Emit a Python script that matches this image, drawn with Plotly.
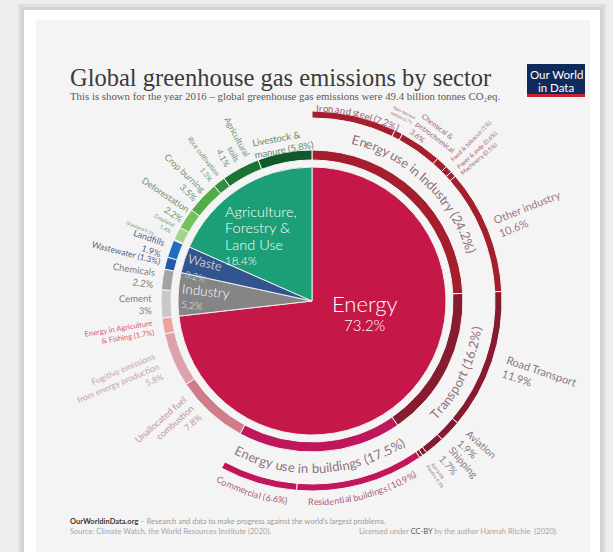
import math
import plotly.graph_objects as go

W, H = 613, 552
CX, CY = 312, 301          # pie centre in px
R_PIE = 134
R_IN = (141, 151)          # inner ring (sub-sectors)
R_OUT = (183, 190)         # outer ring (energy detail)

# ---------------- data (share of total emissions, %) ----------------
sectors = ["Energy", "Industry", "Waste", "Agriculture, Forestry & Land Use"]
sector_values = [73.2, 5.2, 3.2, 18.4]

energy_sub = ["Energy use in Industry", "Transport", "Energy use in buildings",
              "Unallocated fuel combustion", "Fugitive emissions", "Energy in Agriculture & Fishing"]
energy_sub_values = [24.2, 16.2, 17.5, 7.8, 5.8, 1.7]
industry_sub = ["Cement", "Chemicals"]
industry_sub_values = [3.0, 2.2]
waste_sub = ["Wastewater", "Landfills"]
waste_sub_values = [1.3, 1.9]
afolu_sub = ["Grassland", "Cropland", "Deforestation", "Crop burning",
             "Rice cultivation", "Agricultural soils", "Livestock & manure"]
afolu_sub_values = [0.1, 1.4, 2.2, 3.5, 1.3, 4.1, 5.8]

industry_detail = ["Iron and steel", "Non-ferrous metals", "Chemical & petrochemical",
                   "Food & tobacco", "Paper & pulp", "Machinery", "Other industry"]
industry_detail_values = [7.2, 0.7, 3.6, 1.0, 0.6, 0.5, 10.6]
transport_detail = ["Road Transport", "Aviation", "Shipping", "Rail", "Pipeline"]
transport_detail_values = [11.9, 1.9, 1.7, 0.4, 0.3]
buildings_detail = ["Residential buildings", "Commercial"]
buildings_detail_values = [10.9, 6.6]

# ---------------- colours ----------------
sector_colors = ["#c51748", "#858585", "#33558f", "#1c9e77"]
energy_sub_colors = ["#a51e2d", "#871b2f", "#bf175c", "#cf7d88", "#dca4aa", "#eba59e"]
industry_sub_colors = ["#c8c8c8", "#a3a3a3"]
waste_sub_colors = ["#2457a8", "#1f6dc3"]
afolu_sub_colors = ["#cdeac0", "#9fd68c", "#74c15c", "#52ad48", "#2f8f42", "#1b7436", "#10592b"]
industry_detail_colors = ["#a51e2d"] * 7
transport_detail_colors = ["#861a2e"] * 5
buildings_detail_colors = ["#c2155a", "#c2155a"]

BG = "#f5f4f4"

def dom(r):
    return dict(x=[(CX - r) / W, (CX + r) / W], y=[1 - (CY + r) / H, 1 - (CY - r) / H])

fig = go.Figure()
common = dict(sort=False, direction="clockwise", rotation=0, textinfo="none",
              hoverinfo="label+value", showlegend=False)

fig.add_trace(go.Pie(labels=sectors, values=sector_values, domain=dom(R_PIE),
                     marker=dict(colors=sector_colors, line=dict(color="#f0eded", width=1)),
                     **common))

in_labels = energy_sub + industry_sub + waste_sub + afolu_sub
in_values = energy_sub_values + industry_sub_values + waste_sub_values + afolu_sub_values
in_colors = energy_sub_colors + industry_sub_colors + waste_sub_colors + afolu_sub_colors
fig.add_trace(go.Pie(labels=in_labels, values=in_values, domain=dom(R_IN[1]),
                     hole=R_IN[0] / R_IN[1],
                     marker=dict(colors=in_colors, line=dict(color=BG, width=1)), **common))

out_labels = industry_detail + transport_detail + buildings_detail
out_values = industry_detail_values + transport_detail_values + buildings_detail_values
rest = round(100 - sum(out_values), 2)
fig.add_trace(go.Pie(labels=out_labels + [" "], values=out_values + [rest], domain=dom(R_OUT[1]),
                     hole=R_OUT[0] / R_OUT[1],
                     marker=dict(colors=industry_detail_colors + transport_detail_colors
                                 + buildings_detail_colors + ["rgba(0,0,0,0)"],
                                 line=dict(color=BG, width=[1] * len(out_values) + [0])),
                     **common))

# ---------------- angles from data ----------------
def mids(labels, values):
    out, c = {}, 0.0
    for l, v in zip(labels, values):
        out[l] = (c + v / 2) * 3.6
        c += v
    return out

MID = {}
MID.update(mids(in_labels, in_values))
MID.update(mids(out_labels, out_values))

def polar(ang, r):
    a = math.radians(ang)
    x = CX + r * math.sin(a)
    y = CY - r * math.cos(a)
    return x / W, 1 - y / H

ann = []

def add(text, x, y, size, color, rot=0, xa="center", ya="middle", align="center",
        family="Lato", paper_px=True):
    if paper_px:
        x, y = x / W, 1 - y / H
    ann.append(dict(text=text, x=x, y=y, xref="paper", yref="paper", showarrow=False,
                    textangle=rot, xanchor=xa, yanchor=ya, align=align, borderpad=0,
                    font=dict(family=family, size=size, color=color)))

# character widths (em) for Lato-like font
CW = {' ': 0.24, 'a': 0.51, 'b': 0.56, 'c': 0.46, 'd': 0.56, 'e': 0.52, 'f': 0.32, 'g': 0.5,
      'h': 0.56, 'i': 0.24, 'j': 0.24, 'k': 0.5, 'l': 0.24, 'm': 0.84, 'n': 0.56, 'o': 0.56,
      'p': 0.56, 'q': 0.56, 'r': 0.36, 's': 0.42, 't': 0.35, 'u': 0.56, 'v': 0.5, 'w': 0.76,
      'x': 0.49, 'y': 0.5, 'z': 0.45, '(': 0.3, ')': 0.3, '.': 0.23, ',': 0.23, '%': 0.8,
      '&': 0.68, '-': 0.35, 'I': 0.27, 'E': 0.56, 'T': 0.56}

def cw(c):
    if c in CW:
        return CW[c]
    if c.isdigit():
        return 0.58
    return 0.64

def arc_text(text, center, r, size, color, ccw=False):
    ws = [cw(c) * size for c in text]
    L = sum(ws)
    pos = 0
    for c, w in zip(text, ws):
        s = pos + w / 2 - L / 2
        pos += w
        if c == ' ':
            continue
        d = math.degrees(s / r)
        th = center - d if ccw else center + d
        rot = th - 180 if ccw else th
        x, y = polar(th, r)
        add(c, x, y, size, color, rot=rot, paper_px=False)

def seg_label(seg, text, r, size, color, mode, da=0, align="center", rot=None):
    th = MID[seg] + da
    x, y = polar(th, r)
    if rot is None:
        if mode == "in":
            rot = th - 270
        elif mode == "out":
            rot = th - 90
        elif mode == "cw":
            rot = th
        else:
            rot = th - 180
    add(text, x, y, size, color, rot=rot, align=align, paper_px=False)

# ---------------- curved labels between the rings ----------------
MAUVE = "#8d7280"
arc_text("Energy use in Industry (24.2%)", MID["Energy use in Industry"], 167, 13, MAUVE)
arc_text("Transport (16.2%)", MID["Transport"], 167, 13, MAUVE, ccw=True)
arc_text("Energy use in buildings (17.5%)", MID["Energy use in buildings"], 167, 13, MAUVE, ccw=True)

# outer-ring curved labels
arc_text("Iron and steel (7.2%)", MID["Iron and steel"] + 1, 193, 9.5, "#9c5a6b")
arc_text("Residential buildings (10.9%)", MID["Residential buildings"], 201, 9, "#a5607f", ccw=True)
arc_text("Commercial (6.6%)", MID["Commercial"] + 1, 201, 9, "#a5607f", ccw=True)

# ---------------- segment labels ----------------
GREEN = "#6f9272"
seg_label("Livestock & manure", "Livestock &<br>manure (5.8%)", 160, 9.5, "#5c8a68", "cw", align="left")
seg_label("Agricultural soils", "Agricultural<br>soils<br>4.1%", 180, 8.5, GREEN, "in", align="right")
seg_label("Rice cultivation", "Rice cultivation<br>1.3%", 180, 7, GREEN, "in", align="right")
seg_label("Crop burning", "Crop burning<br>3.5%", 180, 9, GREEN, "in", align="right")
seg_label("Deforestation", "Deforestation<br>2.2%", 181, 9, GREEN, "in", da=1, align="right")
seg_label("Cropland", "Cropland<br>1.4%", 168, 5.5, GREEN, "in", da=1, align="right")
seg_label("Grassland", "Grassland 0.1%", 186, 4.5, GREEN, "in", da=-1, align="right")
seg_label("Landfills", "Landfills<br>1.9%", 174, 9, "#4f6587", "in", da=-1, align="right")
seg_label("Wastewater", "Wastewater (1.3%)", 192, 8.5, "#4f6587", "in", align="right")
seg_label("Chemicals", "Chemicals<br>2.2%", 180, 9.5, "#7c7c7c", "in", align="right")
seg_label("Cement", "Cement<br>3%", 177, 9.5, "#7c7c7c", "in", align="right")
seg_label("Energy in Agriculture & Fishing",
          "Energy in Agriculture<br>& Fishing (1.7%)",
          195, 7.5, "#d5586f", "in", align="right")
seg_label("Fugitive emissions", "Fugitive emissions<br>from energy production<br>5.8%",
          210, 8.5, "#c0a3ab", "in", align="right")
seg_label("Unallocated fuel combustion", "Unallocated fuel<br>combustion<br>7.8%",
          192, 9, "#c0939e", "in", da=6, align="right")

RED_L = "#9c6a7a"
seg_label("Non-ferrous metals", "Non-ferrous<br>metals 0.7%", 207, 4.5, RED_L, "cw", da=-1)
seg_label("Chemical & petrochemical", "Chemical &<br>petrochemical<br>3.6%", 205, 7.5, RED_L,
          "cw", da=2, align="left")
seg_label("Food & tobacco", "Food & tobacco (1%)", 226, 6, RED_L, "out", da=1.5)
seg_label("Paper & pulp", "Paper & pulp (0.6%)", 224, 6, RED_L, "out", da=1.5)
seg_label("Machinery", "Machinery (0.5%)", 219, 6, RED_L, "out", da=1.5)
seg_label("Other industry", "Other industry<br>10.6%", 234, 11, "#98788a", "out", align="left")
seg_label("Road Transport", "Road Transport<br>11.9%", 240, 11, "#857680", "out", align="left")
seg_label("Aviation", "Aviation<br>1.9%", 221, 10, "#857680", "out", da=-1.5, align="left")
seg_label("Shipping", "Shipping<br>1.7%", 221, 10, "#857680", "out", da=-1.5, align="left")
seg_label("Rail", "Rail 0.4%", 212, 4.5, "#857680", "out")
seg_label("Pipeline", "Pipeline 0.3%", 214, 4.5, "#857680", "out")

# ---------------- labels inside the pie ----------------
LIGHT = "Lato Light, Lato"
add("Agriculture,", 224, 211, 14.5, "white", xa="left", family=LIGHT)
add("Forestry &", 224, 227.5, 14.5, "white", xa="left", family=LIGHT)
add("Land Use", 224, 245, 14.5, "white", xa="left", family=LIGHT)
add("18.4%", 224, 260, 11.5, "white", xa="left", family=LIGHT)
add("Waste", 205, 262, 12.5, "white", rot=14, family=LIGHT)
add("3.2%", 195, 276, 9.5, "#dfe4ef", rot=14, family=LIGHT)
add("Industry", 206, 291, 13.5, "white", rot=6, family=LIGHT)
add("5.2%", 192, 305, 10, "#eeeeee", rot=6, family=LIGHT)
add("Energy", 365, 303, 22, "white", family=LIGHT)
add("73.2%", 365, 325, 15, "white", family=LIGHT)

# ---------------- title, subtitle, logo, footer ----------------
add("Global greenhouse gas emissions by sector", 69, 77, 24.5, "#3b3b3b", xa="left",
    family="Liberation Serif")
add("This is shown for the year 2016 – global greenhouse gas emissions were 49.4 billion tonnes CO₂eq.",
    69, 96, 10.8, "#5a5a5a", xa="left", family="Liberation Serif")
add("Our World", 556, 74, 11.5, "white")
add("in Data", 556, 87, 11.5, "white")
add("<b>OurWorldinData.org</b> <span style='color:#9a9a9a'>– Research and data to make progress against the world's largest problems.</span>",
    69, 521, 7.5, "#3a3a3a", xa="left")
add("Source: Climate Watch, the World Resources Institute (2020).", 69, 531, 7.5, "#a5a5a5", xa="left")
add("Licensed under <span style='color:#555'>CC-BY</span> by the author Hannah Ritchie  (2020).",
    559, 531, 7.5, "#a5a5a5", xa="right")

def rect(x0, y0, x1, y1, color):
    return dict(type="rect", xref="paper", yref="paper", x0=x0 / W, x1=x1 / W,
                y0=1 - y1 / H, y1=1 - y0 / H, fillcolor=color, line=dict(width=0), layer="below")

shapes = [
    rect(18, 4, 606, 552, "#dedede"),
    rect(21, 7, 603, 552, "#d2d2d2"),
    rect(24, 10, 600, 552, "#ffffff"),
    rect(36, 20, 590, 552, BG),
    rect(527, 64, 585, 97, "#102a5c"),
    rect(527, 94, 585, 97, "#c8232f"),
]

fig.update_layout(width=W, height=H, margin=dict(l=0, r=0, t=0, b=0),
                  paper_bgcolor="#ededed", plot_bgcolor="rgba(0,0,0,0)",
                  annotations=ann, shapes=shapes, showlegend=False)
fig.write_html("out.html", config={"displayModeBar": False},
               post_script="document.body.style.margin='0';")
